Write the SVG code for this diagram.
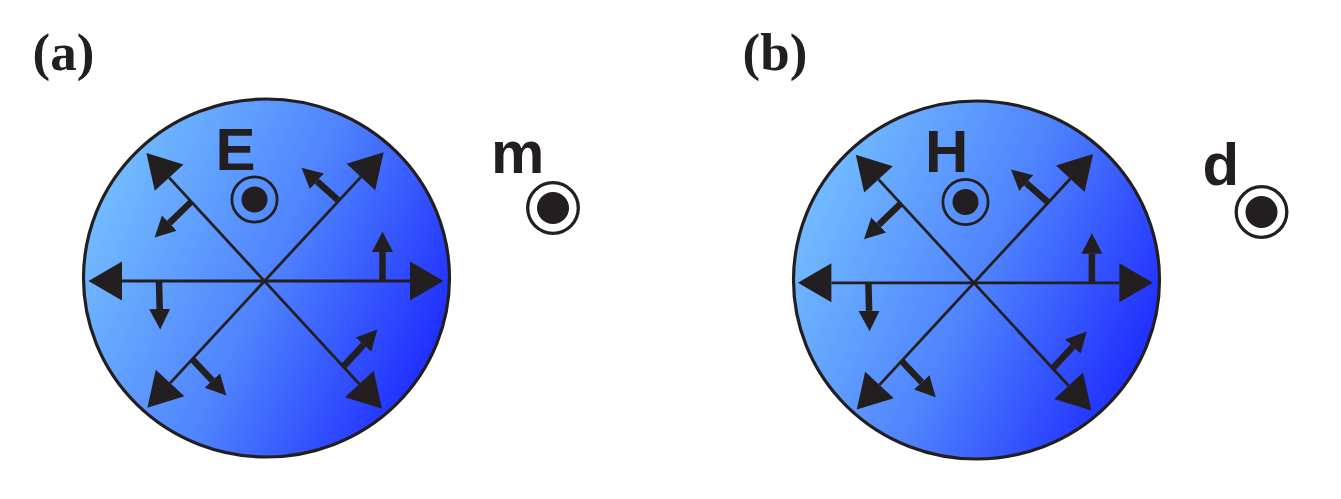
<svg xmlns="http://www.w3.org/2000/svg" width="1341" height="499" viewBox="0 0 1341 499">
<style>
.disk{stroke:#231f20;stroke-width:3.2}
.axis{stroke:#231f20;stroke-width:2.8;fill:none;marker-start:url(#bigHead);marker-end:url(#bigHead)}
.pol{stroke:#231f20;stroke-width:6.5;fill:none;marker-end:url(#smallHead)}
.ring{fill:none;stroke:#231f20}
.dot{fill:#231f20}
.sym{font-family:"Liberation Sans",Arial,sans-serif;font-weight:bold;font-size:60px;fill:#231f20}
.lab{font-family:"Liberation Serif","Times New Roman",serif;font-weight:bold;font-size:53px;fill:#231f20}
</style>
<defs>
<linearGradient id="blue" x1="0" y1="0.3" x2="1" y2="0.75">
<stop offset="0" stop-color="#74bfff"/>
<stop offset="0.5" stop-color="#4f83fd"/>
<stop offset="1" stop-color="#1a25ff"/>
</linearGradient>
<marker id="bigHead" markerUnits="userSpaceOnUse" markerWidth="40" markerHeight="42" viewBox="0 -21 34 42" refX="0" refY="0" orient="auto-start-reverse">
<path d="M0,-19.5 L33.5,0 L0,19.5 Z" fill="#231f20"/>
</marker>
<marker id="smallHead" markerUnits="userSpaceOnUse" markerWidth="22" markerHeight="24" viewBox="0 -12 22 24" refX="0" refY="0" orient="auto">
<path d="M0,-10.5 L20.5,0 L0,10.5 Z" fill="#231f20"/>
</marker>
</defs>
<rect width="1341" height="499" fill="#ffffff"/>

<g id="panel-a-label"><text class="lab" x="32.5" y="70">(a)</text></g>
<g id="panel-b-label"><text class="lab" x="742.5" y="70">(b)</text></g>

<g id="disk-a">
<ellipse class="disk" cx="266.5" cy="278" rx="183" ry="179" fill="url(#blue)"/>
</g>
<g id="disk-b">
<ellipse class="disk" cx="976.5" cy="280" rx="183" ry="179" fill="url(#blue)"/>
</g>

<g id="connectors-a">
<line class="axis" x1="122" y1="281" x2="410" y2="281"/>
<line class="axis" x1="169.1" y1="177.6" x2="359.3" y2="384"/>
<line class="axis" x1="170.1" y1="383.1" x2="360.9" y2="176.9"/>
<line class="pol" x1="191" y1="202" x2="169.3" y2="223.1"/>
<line class="pol" x1="338" y1="200" x2="316.9" y2="181.3"/>
<line class="pol" x1="382.5" y1="281" x2="382.5" y2="252"/>
<line class="pol" x1="159" y1="281" x2="159.7" y2="309"/>
<line class="pol" x1="192" y1="359" x2="212.3" y2="380.5"/>
<line class="pol" x1="343" y1="367" x2="363.5" y2="344.7"/>
</g>
<g id="connectors-b" transform="translate(709.4 1.8)">
<line class="axis" x1="122" y1="281" x2="410" y2="281"/>
<line class="axis" x1="169.1" y1="177.6" x2="359.3" y2="384"/>
<line class="axis" x1="170.1" y1="383.1" x2="360.9" y2="176.9"/>
<line class="pol" x1="191" y1="202" x2="169.3" y2="223.1"/>
<line class="pol" x1="338" y1="200" x2="316.9" y2="181.3"/>
<line class="pol" x1="382.5" y1="281" x2="382.5" y2="252"/>
<line class="pol" x1="159" y1="281" x2="159.7" y2="309"/>
<line class="pol" x1="192" y1="359" x2="212.3" y2="380.5"/>
<line class="pol" x1="343" y1="367" x2="363.5" y2="344.7"/>
</g>

<g id="field-E">
<text class="sym" x="215.6" y="170">E</text>
<circle class="ring" cx="254.5" cy="199.5" r="22.6" stroke-width="2.8"/>
<circle class="dot" cx="254.5" cy="199.5" r="13"/>
</g>
<g id="field-H">
<text class="sym" x="925" y="171.7">H</text>
<circle class="ring" cx="965.5" cy="202" r="22.6" stroke-width="2.8"/>
<circle class="dot" cx="965.5" cy="202" r="13"/>
</g>
<g id="moment-m">
<text class="sym" x="491" y="173.3">m</text>
<circle class="ring" cx="553" cy="208" r="25.3" stroke-width="3.3"/>
<circle class="dot" cx="553" cy="208" r="16"/>
</g>
<g id="moment-d">
<text class="sym" x="1202.6" y="185">d</text>
<circle class="ring" cx="1261.5" cy="212" r="25.3" stroke-width="3.3"/>
<circle class="dot" cx="1261.5" cy="212" r="16"/>
</g>
</svg>
